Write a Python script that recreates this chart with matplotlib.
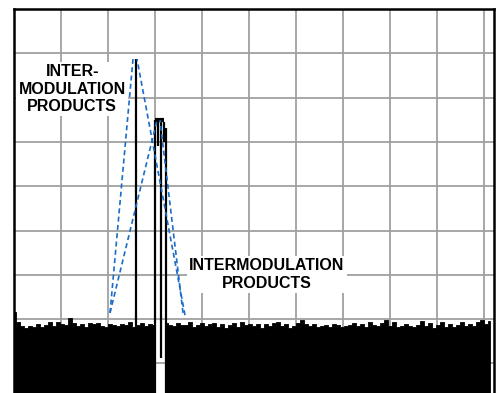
# -*- coding: utf-8 -*-

import matplotlib
matplotlib.use('Agg')
import matplotlib.pyplot as plt
import numpy as np

# frequency axis in divisions (10 div full span), amplitude in dB (10 dB/div)
noise_left = [-68.4, -70.7, -71.6, -72.0, -71.6, -71.8, -71.1, -71.8, -71.3, -70.7,
              -71.6, -70.7, -71.1, -71.3, -69.8, -70.9, -71.6, -71.1, -71.8, -70.9,
              -71.1, -70.9, -71.6, -71.8, -71.1, -71.3, -71.6, -71.1, -71.3, -70.7,
              -71.8, -71.3, -70.9, -71.6, -71.1, -71.3]
noise_right = [-70.9, -71.3, -71.6, -70.9, -71.3, -71.3, -70.7, -71.8, -71.3, -70.9,
               -71.6, -71.1, -70.9, -71.8, -71.1, -72.0, -71.3, -70.9, -71.8, -70.7,
               -71.3, -71.1, -71.6, -71.1, -72.0, -71.1, -71.6, -70.9, -70.7, -71.6,
               -71.1, -72.0, -71.6, -70.9, -70.2, -71.1, -71.6, -71.1, -71.8, -71.6,
               -71.3, -71.8, -71.1, -71.3, -71.8, -71.6, -71.3, -70.9, -71.6, -71.1,
               -71.8, -70.7, -71.3, -71.6, -70.9, -70.2, -71.6, -70.7, -71.8, -71.6,
               -71.1, -71.6, -71.8, -71.3, -70.4, -71.6, -70.9, -72.0, -71.3, -70.7,
               -71.8, -71.1, -71.8, -71.3, -70.7, -71.6, -71.1, -71.6, -70.7, -70.2,
               -71.1, -70.4]
noise_left_start = 0.0
noise_right_start = 3.234
noise_step = 4 / 47.0

# spectral lines: intermod product and the carrier cluster
tone_freq = [2.60, 3.00, 3.06, 3.13, 3.19, 3.23]
tone_top = [-11.3, -25.0, -25.0, -25.0, -25.5, -26.9]
tone_bottom = [-72.0, -90.0, -31.0, -78.8, -30.0, -90.0]

label_upper = 'INTER-\nMODULATION\nPRODUCTS'
label_lower = 'INTERMODULATION\nPRODUCTS'

plt.rcParams['font.family'] = ['Liberation Sans', 'DejaVu Sans']

fig = plt.figure(figsize=(4.98, 3.93), dpi=100)
ax = fig.add_axes([14 / 498, 0.0, 480 / 498, 1 - 9 / 393])
ax.set_xlim(0, 480 / 47.0)
ax.set_ylim(-(393 - 9) / 4.43, 0)

# grid
ax.set_xticks(np.arange(0, 11))
ax.set_yticks(np.arange(-80, 1, 10))
ax.grid(True, color='#a0a0a0', linewidth=1.3)
ax.tick_params(length=0, labelbottom=False, labelleft=False)
ax.set_axisbelow(True)
for side in ['top', 'left', 'right']:
    ax.spines[side].set_linewidth(1.8)
    ax.spines[side].set_color('black')
ax.spines['bottom'].set_visible(False)

# noise floor
xl = noise_left_start + np.arange(len(noise_left)) * noise_step
xr = noise_right_start + np.arange(len(noise_right)) * noise_step
ax.fill_between(xl, -100, noise_left, step='mid', color='black', linewidth=0.6,
                edgecolor='black', zorder=3)
ax.fill_between(xr, -100, noise_right, step='mid', color='black', linewidth=0.6,
                edgecolor='black', zorder=3)

# tones
ax.vlines(tone_freq, tone_bottom, tone_top, color='black', linewidth=1.6, zorder=4)
ax.hlines(tone_top[1], tone_freq[1], tone_freq[4], color='black', linewidth=3, zorder=4)

# labels with white boxes hiding the grid
box = dict(boxstyle='square,pad=0.15', facecolor='white', edgecolor='none')
ax.text(1.24, -18.1, label_upper, ha='center', va='center', fontsize=11.5,
        fontweight='bold', bbox=box, zorder=6)
ax.text(5.38, -59.9, label_lower, ha='center', va='center', fontsize=11.5,
        fontweight='bold', bbox=box, zorder=6)

# dashed pointers
blue = '#1a6cc8'
pointers = [((2.043, -68.6), (2.532, -11.3)),
            ((2.043, -68.6), (3.043, -25.1)),
            ((3.638, -69.1), (2.617, -11.3)),
            ((3.596, -68.6), (3.106, -25.1))]
for (x0, y0), (x1, y1) in pointers:
    ax.plot([x0, x1], [y0, y1], color=blue, linewidth=1.2, dashes=(3, 2), zorder=7)

fig.savefig('out.png', dpi=100)
